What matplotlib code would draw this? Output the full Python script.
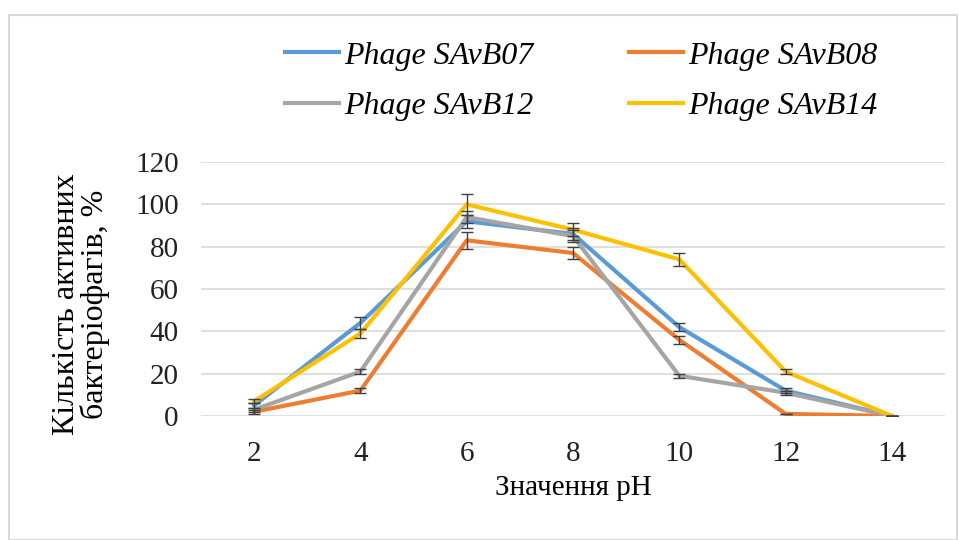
import numpy as np
import matplotlib.pyplot as plt
from matplotlib.patches import Rectangle

ph=[2,4,6,8,10,12,14]
names=["Phage SAvB07","Phage SAvB08","Phage SAvB12","Phage SAvB14"]
b07=[5,44,92,86,42,12,0]
b08=[2,12,83,77,36,1,0]
b12=[3,21,94,85,19,11,0]
b14=[7,39,100,88,74,21,0]
e07=[1,3,3,3,2,1,0]
e08=[1,1,4,3,2,0,0]
e12=[1,1,3,3,1,1,0]
e14=[1,2,5,3,3,1,0]
cols=["#5B9BD5","#ED7D31","#A5A5A5","#FFC000"]

plt.rcParams['font.family']=['Liberation Serif','DejaVu Serif']

fig=plt.figure(figsize=(9.59,5.4),dpi=100)
fig.patches.append(Rectangle((9/959,0.0),948/959,525/540,transform=fig.transFigure,
                             fill=False,edgecolor="#d9d9d9",lw=1.5))
ax=fig.add_axes([201/959,1-416/540,744/959,254/540])

lines=[]
for y,e,c,n in zip([b07,b08,b12,b14],[e07,e08,e12,e14],cols,names):
    l,=ax.plot(ph,y,color=c,lw=3,label=n,zorder=3)
    ax.errorbar(ph,y,yerr=e,fmt="none",ecolor="#404040",elinewidth=1,capsize=4,zorder=4)
    lines.append(l)

ax.set_xlim(1,15)
ax.set_ylim(0,120)
ax.set_xticks(ph)
ax.set_yticks(range(0,121,20))
ax.grid(axis="y",color="#d9d9d9",lw=1.2)
ax.set_axisbelow(True)
for s in ax.spines.values():
    s.set_visible(False)
ax.tick_params(length=0,labelsize=21,colors="#222222")
ax.tick_params(axis="y",pad=16)
ax.tick_params(axis="x",pad=18)
ax.set_xlabel("Значення pH",fontsize=21,labelpad=6)
ax.set_ylabel("Кількість активних\nбактеріофагів, %",fontsize=23,linespacing=0.95)
ax.yaxis.set_label_coords(-0.122,0.44)

order=[0,2,1,3]
fig.legend(handles=[lines[i] for i in order],loc="center",bbox_to_anchor=(581/959,1-81/540),ncol=2,frameon=False,
           prop={'style':'italic','size':23},handlelength=1.7,handletextpad=0.15,
           columnspacing=3.0,labelspacing=0.65)

plt.savefig("out.png",dpi=100)
